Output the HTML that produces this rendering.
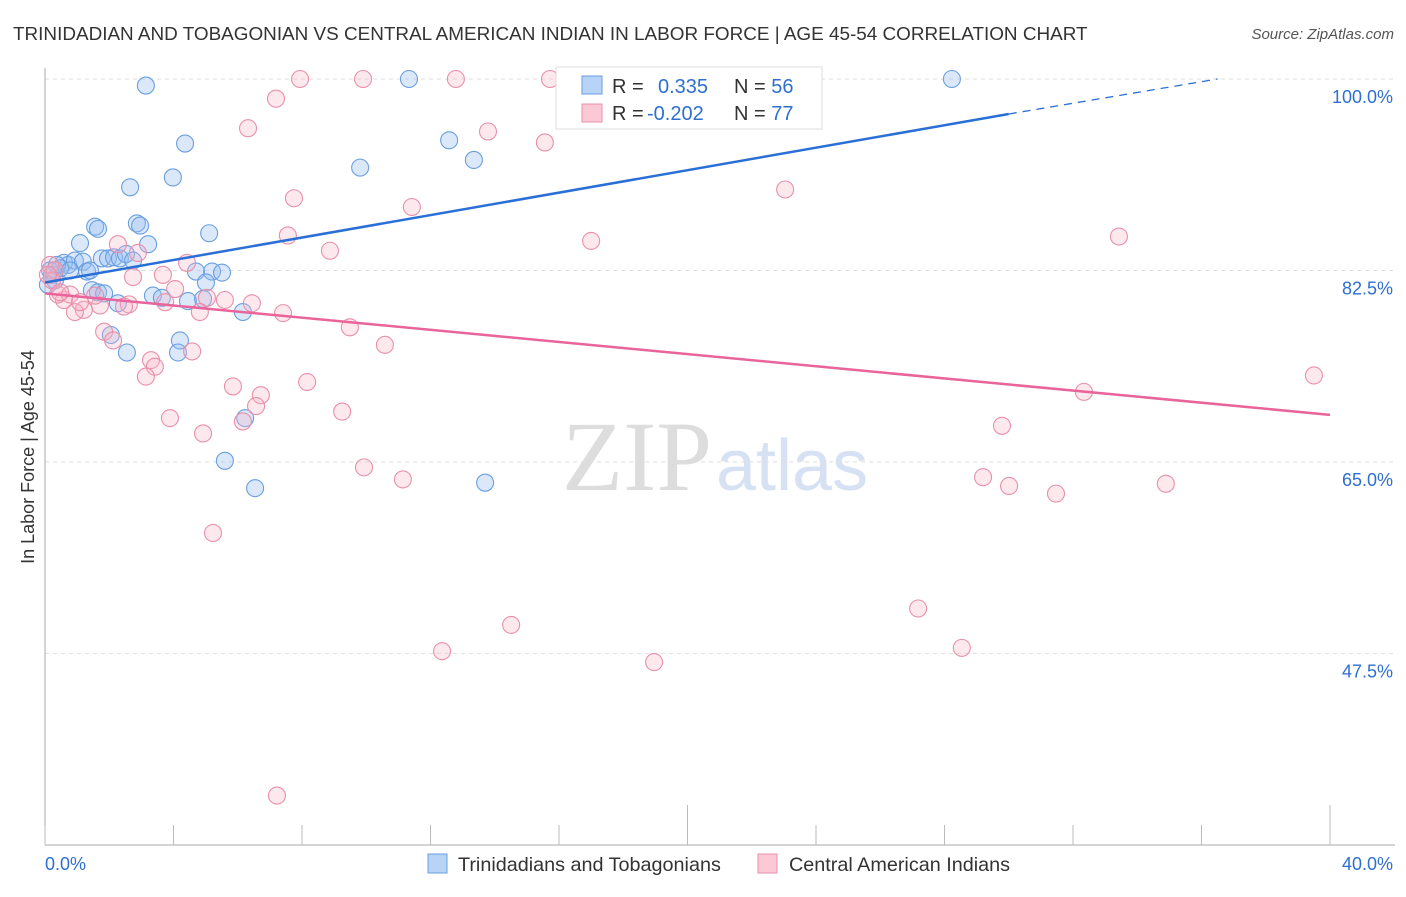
<!DOCTYPE html>
<html><head><meta charset="utf-8"><style>
body{margin:0;background:#fff;font-family:"Liberation Sans",sans-serif}
</style></head><body>
<svg id="c" width="1406" height="892" xmlns="http://www.w3.org/2000/svg">
<text x="13" y="40" font-size="18.9" fill="#333">TRINIDADIAN AND TOBAGONIAN VS CENTRAL AMERICAN INDIAN IN LABOR FORCE | AGE 45-54 CORRELATION CHART</text>
<text x="1394" y="39" font-size="15" fill="#555" font-style="italic" text-anchor="end">Source: ZipAtlas.com</text>
<text x="712" y="490" font-size="100" fill="#ddd" font-family="Liberation Serif,serif" text-anchor="end">ZIP</text>
<text x="716" y="490" font-size="72" fill="#d6e2f4">atlas</text>
<text transform="translate(34,457) rotate(-90)" font-size="18" fill="#333" text-anchor="middle">In Labor Force | Age 45-54</text>
<g id="grid"></g><g id="pts"></g><g id="lines"></g>
<g>
<rect x="556" y="67" width="266" height="62" fill="#fff" stroke="#ddd"/>
<rect x="582" y="76" width="20" height="18" fill="#b7d3f5" stroke="#6a9fe0"/>
<rect x="582" y="104" width="20" height="18" fill="#fbc8d6" stroke="#e890aa"/>
<text x="612" y="93" font-size="20" fill="#333">R = <tspan fill="#2e6fd0" x="658">0.335</tspan><tspan x="734" fill="#333">N = </tspan><tspan fill="#2e6fd0">56</tspan></text>
<text x="612" y="120" font-size="20" fill="#333">R = <tspan fill="#2e6fd0" x="647">-0.202</tspan><tspan x="734" fill="#333">N = </tspan><tspan fill="#2e6fd0">77</tspan></text>
</g>
<g>
<rect x="428" y="854" width="19" height="19" fill="#b7d3f5" stroke="#6a9fe0"/>
<text x="458" y="871" font-size="19.8" fill="#333">Trinidadians and Tobagonians</text>
<rect x="758" y="854" width="19" height="19" fill="#fbc8d6" stroke="#e890aa"/>
<text x="789" y="871" font-size="19.8" fill="#333">Central American Indians</text>
</g>
</svg>
<script>
const yTicks=[100,82.5,65,47.5];
const yTickLabels=["100.0%","82.5%","65.0%","47.5%"];
const xTickLabels=["0.0%","40.0%"];
const blueX=[3.14,11.33,28.23,4.36,3.98,2.65,12.58,13.35,9.81,2.86,2.96,1.56,1.65,5.11,1.09,3.21,0.59,0.72,0.93,1.18,1.31,1.40,1.77,1.96,2.15,2.33,2.52,2.74,4.70,5.20,5.51,5.01,0.16,0.22,0.31,0.09,1.46,1.65,1.84,2.27,3.36,3.64,4.45,4.92,6.16,2.05,4.20,4.14,2.55,6.23,5.60,6.54,13.70,0.47,0.37,0.78];
const blueY=[99.4,100,100,94.1,91.0,90.1,94.4,92.6,91.9,86.8,86.6,86.5,86.3,85.9,85.0,84.9,83.2,83.0,83.4,83.3,82.4,82.5,83.6,83.6,83.7,83.6,84.0,83.4,82.4,82.4,82.3,81.4,82.5,82.1,81.6,81.2,80.7,80.5,80.4,79.5,80.2,80.0,79.7,79.9,78.7,76.6,76.1,75.0,75.0,69.0,65.1,62.6,63.1,82.7,83.0,82.5];
const pinkX=[7.94,9.90,12.79,15.72,22.29,7.19,6.32,13.79,15.56,17.28,18.15,23.04,7.75,11.42,7.56,17.00,33.43,8.87,2.27,2.89,4.42,3.67,2.74,4.05,5.04,5.60,6.44,7.41,4.82,3.74,2.61,2.46,1.71,1.21,0.93,0.59,0.40,0.16,0.31,0.22,9.49,10.58,1.84,2.12,4.58,3.30,3.42,3.14,8.16,5.85,6.72,6.57,6.16,9.25,3.89,4.92,32.34,39.50,29.79,9.93,11.14,29.20,30.01,31.47,34.89,5.23,27.18,14.51,12.36,28.54,18.96,7.22,0.78,1.56,1.09,0.47,0.09];
const pinkY=[100,100,100,100,100,98.2,95.5,95.2,94.2,98.2,98.2,89.9,89.1,88.3,85.7,85.2,85.6,84.3,84.9,84.1,83.2,82.1,81.9,80.8,80.0,79.8,79.5,78.6,78.7,79.6,79.4,79.2,79.3,78.9,78.7,79.8,80.3,83.0,82.5,81.6,77.3,75.7,76.9,76.1,75.1,74.3,73.7,72.8,72.3,71.9,71.1,70.1,68.7,69.6,69.0,67.6,71.4,72.9,68.3,64.5,63.4,63.6,62.8,62.1,63.0,58.5,51.6,50.1,47.7,48.0,46.7,34.5,80.3,80.2,79.6,80.5,82.1];
const blueTrend=[[0,81.4],[30,96.8],[36.5,100]];
const pinkTrend=[[0,80.4],[40,69.3]];
const X=v=>45+v*32.125, Y=v=>79+(100-v)*10.94;
const NS="http://www.w3.org/2000/svg";
function mk(tag,attrs,parent){const e=document.createElementNS(NS,tag);for(const k in attrs)e.setAttribute(k,attrs[k]);parent.appendChild(e);return e;}
const grid=document.getElementById('grid'),pts=document.getElementById('pts'),lines=document.getElementById('lines');
yTicks.forEach((t,i)=>{
 const l=mk('line',{x1:45,x2:1393,y1:Y(t),y2:Y(t),stroke:'#ddd','stroke-dasharray':'4,4'},grid);
 
 
 const tx=mk('text',{x:1393,y:Y(t)+24,'font-size':18,fill:'#2e6fd0','text-anchor':'end'},grid);
 tx.textContent=yTickLabels[i];
 
 
});
const ax=mk('line',{x1:45,x2:1395,y1:845,y2:845,stroke:'#aaa'},grid);


const ay=mk('line',{x1:45,x2:45,y1:68,y2:845,stroke:'#aaa'},grid);


for(let i=0;i<=10;i++){const v=i*4;const tk=mk('line',{x1:X(v),x2:X(v),y1:(i==5||i==10)?805:825,y2:845,stroke:'#bbb'},grid);
 
 }
[[0,'start'],[40,'end']].forEach((p,i)=>{const tx=mk('text',{x:X(p[0])+(i?63:0),y:870,'font-size':18,fill:'#2e6fd0','text-anchor':p[1]},grid);tx.textContent=xTickLabels[i];
 
 });
blueX.forEach((x,i)=>{const c=mk('circle',{cx:X(x),cy:Y(blueY[i]),r:8.5,fill:'rgba(150,190,240,0.35)',stroke:'#6a9fe0','stroke-width':1.1},pts);
 
 });
pinkX.forEach((x,i)=>{const c=mk('circle',{cx:X(x),cy:Y(pinkY[i]),r:8.5,fill:'rgba(248,180,200,0.3)',stroke:'#e890aa','stroke-width':1.1},pts);
 
 });
const b1=mk('line',{x1:X(blueTrend[0][0]),y1:Y(blueTrend[0][1]),x2:X(blueTrend[1][0]),y2:Y(blueTrend[1][1]),stroke:'#2a6fd6','stroke-width':2.5},lines);


const b2=mk('line',{x1:X(blueTrend[1][0]),y1:Y(blueTrend[1][1]),x2:X(blueTrend[2][0]),y2:Y(blueTrend[2][1]),stroke:'#2a6fd6','stroke-width':1.3,'stroke-dasharray':'8,6'},lines);


const p1=mk('line',{x1:X(pinkTrend[0][0]),y1:Y(pinkTrend[0][1]),x2:X(pinkTrend[1][0]),y2:Y(pinkTrend[1][1]),stroke:'#e8649a','stroke-width':2.5},lines);


</script>
</body></html>
